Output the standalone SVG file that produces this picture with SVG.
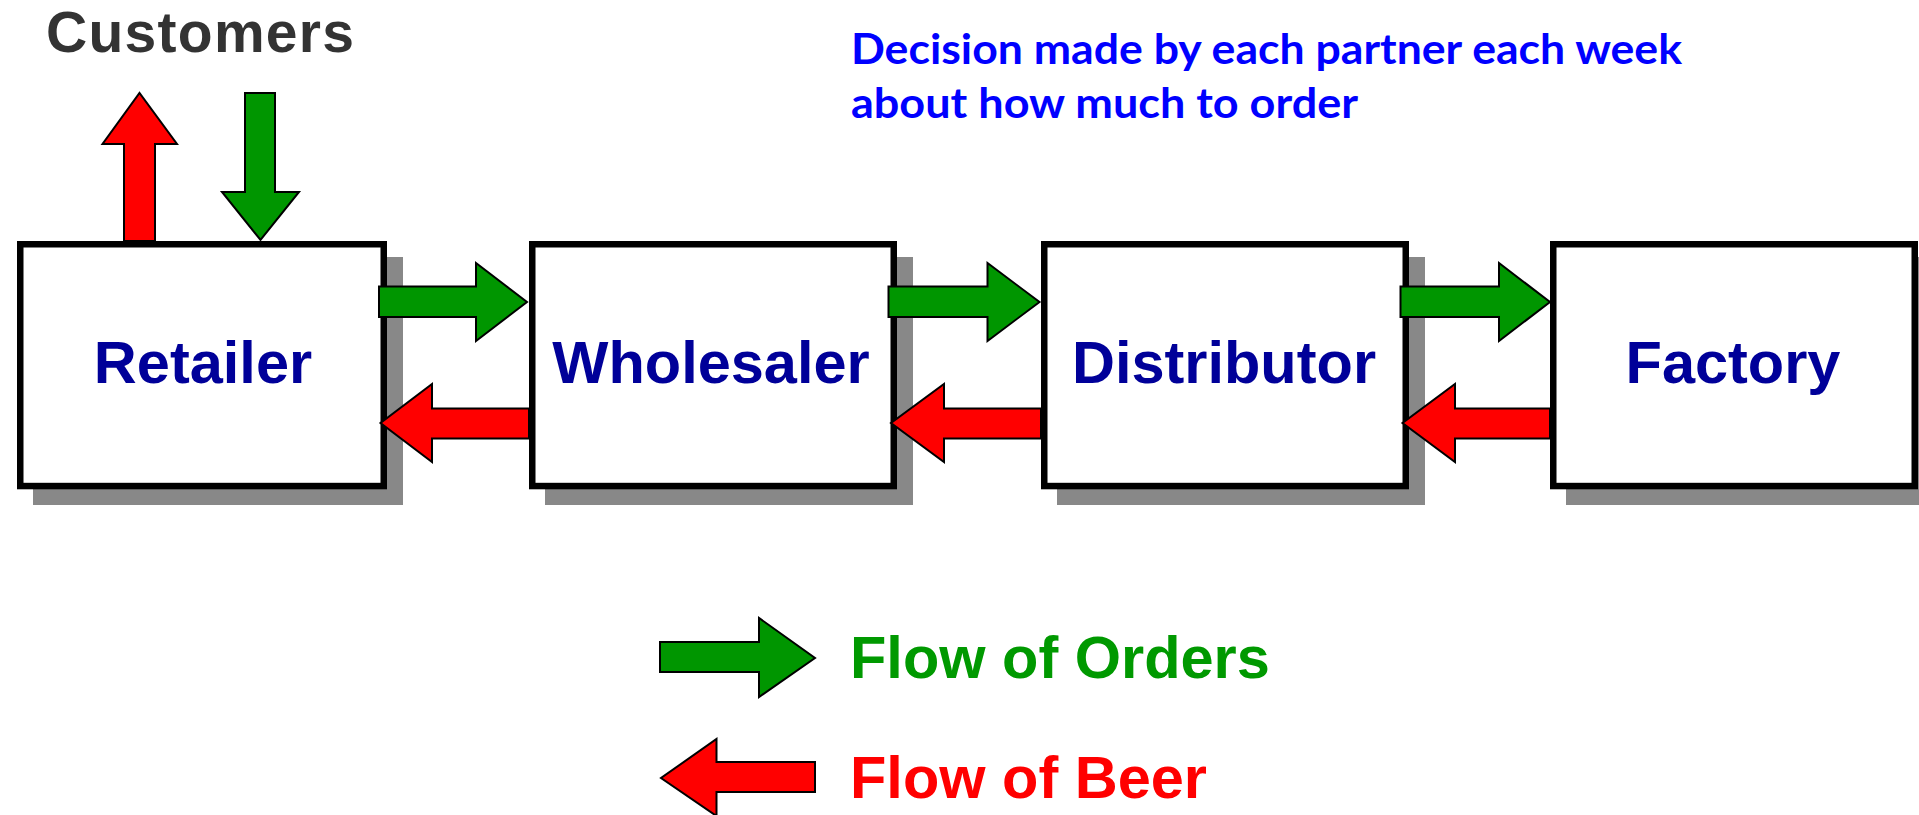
<svg xmlns="http://www.w3.org/2000/svg" width="1919" height="815" viewBox="0 0 1919 815">
<style>
.shadow{fill:#888888}
.box{fill:#ffffff;stroke:#000000;stroke-width:6.5}
.lbl{font-family:"Liberation Sans",Arial,sans-serif;font-weight:bold;font-size:59.5px;fill:#000099;text-anchor:middle}
.g{fill:#009600;stroke:#000000;stroke-width:2;stroke-linejoin:miter}
.r{fill:#ff0000;stroke:#000000;stroke-width:2;stroke-linejoin:miter}
.leg{font-family:"Liberation Sans",Arial,sans-serif;font-weight:bold;font-size:59.5px}
</style>
<rect width="1919" height="815" fill="#ffffff"/>
<g id="customers">
<text x="46" y="52" font-family="'Liberation Sans',Arial,sans-serif" font-weight="bold" font-size="57" fill="#333333" textLength="308" lengthAdjust="spacing">Customers</text>
</g>
<g id="decision-note">
<text font-family="Lato,'Open Sans','Liberation Sans',sans-serif" font-weight="bold" font-size="42" fill="#0000ff">
<tspan x="851" y="64" textLength="831" lengthAdjust="spacingAndGlyphs">Decision made by each partner each week</tspan>
<tspan x="851" y="118" textLength="507" lengthAdjust="spacingAndGlyphs">about how much to order</tspan>
</text>
</g>
<g id="retailer">
<rect class="shadow" x="33" y="257" width="370" height="248"/>
<rect class="box" x="20.25" y="244.25" width="363.5" height="241.8"/>
<text class="lbl" x="203" y="383">Retailer</text>
</g>
<g id="wholesaler">
<rect class="shadow" x="545" y="257" width="368" height="248"/>
<rect class="box" x="532.25" y="244.25" width="361.5" height="241.8"/>
<text class="lbl" x="711" y="383">Wholesaler</text>
</g>
<g id="distributor">
<rect class="shadow" x="1057" y="257" width="368" height="248"/>
<rect class="box" x="1044.25" y="244.25" width="361.5" height="241.8"/>
<text class="lbl" x="1224" y="383">Distributor</text>
</g>
<g id="factory">
<rect class="shadow" x="1566" y="257" width="368" height="248"/>
<rect class="box" x="1553.25" y="244.25" width="361.5" height="241.8"/>
<text class="lbl" x="1733" y="383">Factory</text>
</g>
<g id="connectors">
<polygon class="r" points="124,241 124,144 102.5,144 139.5,93 177,144 155,144 155,241"/>
<polygon class="g" points="245,93 275,93 275,192 299,192 260.5,240 222,192 245,192"/>
<polygon class="g" points="379,286.5 476,286.5 476,263 527,302 476,341 476,317 379,317"/>
<polygon class="g" points="888.5,286.5 987.5,286.5 987.5,263 1039.5,302 987.5,341 987.5,317 888.5,317"/>
<polygon class="g" points="1400.5,286.5 1499,286.5 1499,263 1550,302 1499,341 1499,317 1400.5,317"/>
<polygon class="r" points="529,408.5 432,408.5 432,384 380.5,423 432,462 432,438.5 529,438.5"/>
<polygon class="r" points="1041,408.5 944,408.5 944,384 891,423 944,462 944,438.5 1041,438.5"/>
<polygon class="r" points="1550,408.5 1455,408.5 1455,384 1402.5,423 1455,462 1455,438.5 1550,438.5"/>
</g>
<g id="legend">
<polygon class="g" points="660,642 759,642 759,618 815,658 759,697 759,672 660,672"/>
<text class="leg" x="850" y="678" fill="#009900">Flow of Orders</text>
<polygon class="r" points="815,762 716.5,762 716.5,739 661,778 716.5,816 716.5,792 815,792"/>
<text class="leg" x="850" y="798" fill="#ff0000">Flow of Beer</text>
</g>
</svg>
